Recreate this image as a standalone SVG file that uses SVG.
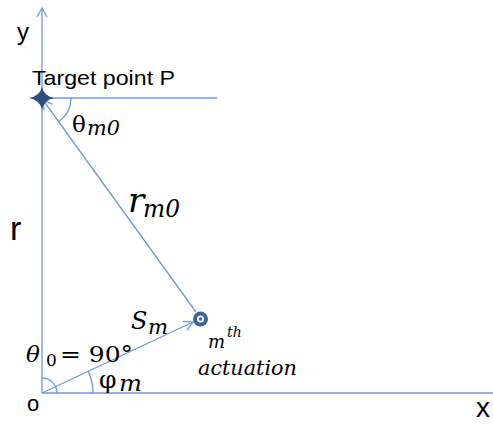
<svg xmlns="http://www.w3.org/2000/svg" width="493" height="425" viewBox="0 0 493 425">
<style>
.ln{stroke:#6f99d4;stroke-width:1.3;fill:none}
.sans{font-family:"Liberation Sans","Noto Sans",sans-serif;fill:#000}
.math{font-family:"DejaVu Serif","Liberation Serif",serif;font-style:italic;fill:#000}
.up{font-family:"DejaVu Serif","Liberation Serif",serif;font-style:normal;fill:#000}
</style>
<defs>
<marker id="arr" markerWidth="12" markerHeight="12" refX="10" refY="6" orient="auto" markerUnits="userSpaceOnUse">
<path d="M1,1 L10,6 L1,11" fill="none" stroke="#6f99d4" stroke-width="1.3"/>
</marker>
</defs>
<rect width="493" height="425" fill="#fff"/>
<g id="connectors">
<line id="y-axis" class="ln" x1="42" y1="393" x2="42" y2="8" marker-end="url(#arr)"/>
<line id="x-axis" class="ln" x1="42" y1="393" x2="493" y2="393"/>
<line id="p-horizontal" class="ln" x1="42" y1="98" x2="217" y2="98"/>
<line id="r-m0" class="ln" x1="196" y1="312" x2="43" y2="100" marker-end="url(#arr)"/>
<line id="s-m" class="ln" x1="42" y1="393" x2="193" y2="322" marker-end="url(#arr)"/>
<path id="arc-theta-m0" class="ln" d="M71,98 A29,29 0 0 1 59,121.5"/>
<path id="arc-theta-0" class="ln" d="M42,378 A15,15 0 0 1 57,393"/>
<path id="arc-phi" class="ln" d="M93,393 A51,51 0 0 0 88.2,371.4"/>
</g>
<g id="target-point">
<path d="M42,87 Q44,96 54,98 Q44,100 42,110 Q40,100 29,98 Q40,96 42,87 Z" fill="#2e4d7b"/>
<text class="sans" x="32" y="85" font-size="21" textLength="143" lengthAdjust="spacingAndGlyphs">Target point P</text>
</g>
<g id="actuator">
<circle cx="200.5" cy="319" r="7.5" fill="#3a659a"/>
<circle cx="200.5" cy="319" r="3.6" fill="#fff"/>
<circle cx="200.5" cy="319" r="1.7" fill="#3a659a"/>
<text class="math" x="208" y="348" font-size="18">m</text>
<text class="math" x="227" y="337" font-size="14">th</text>
<text class="math" x="198" y="375" font-size="20" textLength="99" lengthAdjust="spacingAndGlyphs">actuation</text>
</g>
<g id="labels">
<text class="sans" x="17" y="40" font-size="24">y</text>
<text class="sans" x="10" y="240" font-size="34">r</text>
<text class="sans" x="27" y="411" font-size="22">o</text>
<text class="sans" x="476" y="417" font-size="28">x</text>
<text class="up" x="72" y="132" font-size="23">θ</text>
<text class="math" x="87" y="135" font-size="21" textLength="33" lengthAdjust="spacingAndGlyphs">m0</text>
<text class="math" x="128" y="212" font-size="34">r</text>
<text class="math" x="143" y="217" font-size="24" textLength="37" lengthAdjust="spacingAndGlyphs">m0</text>
<text class="math" x="131" y="329" font-size="24">S</text>
<text class="math" x="148" y="334" font-size="21" textLength="20" lengthAdjust="spacingAndGlyphs">m</text>
<text class="math" x="26" y="362" font-size="23">θ</text>
<text class="up" x="46" y="366" font-size="17">0</text>
<text class="up" x="60" y="362" font-size="23" textLength="73" lengthAdjust="spacingAndGlyphs">= 90°</text>
<text class="up" x="99" y="388" font-size="25">φ</text>
<text class="math" x="119" y="391" font-size="22" textLength="23" lengthAdjust="spacingAndGlyphs">m</text>
</g>
</svg>
